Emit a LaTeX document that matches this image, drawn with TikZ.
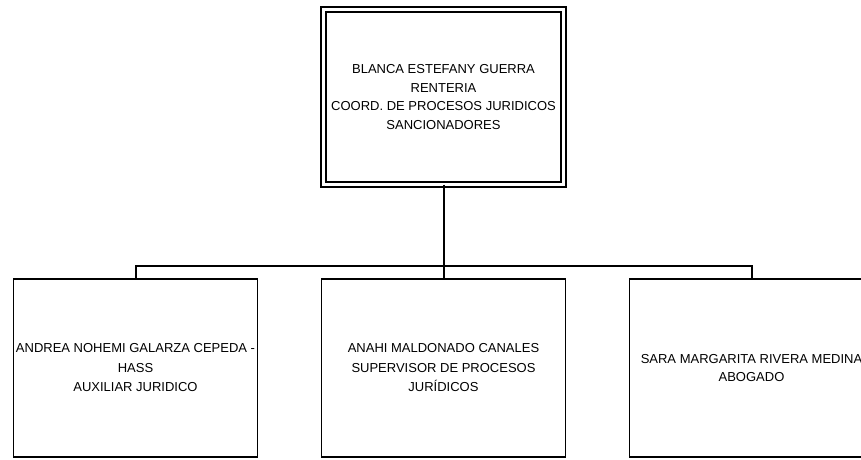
\documentclass[tikz,border=0pt]{standalone}
\usepackage{fontspec}
\setmainfont{Liberation Sans}
\usetikzlibrary{positioning}

\begin{document}
\begin{tikzpicture}[x=1pt, y=1pt,
boss/.style={draw, double, line width=1.8pt, double distance=3.4pt, outer sep=0pt, inner sep=0pt, minimum width=240pt, minimum height=175pt, align=center, font=\fontsize{13}{18.5}\selectfont},
staff/.style={draw, line width=1.9pt, outer sep=0pt, inner sep=0pt, minimum width=244pt, minimum height=178pt, align=center, font=\fontsize{13}{19.5}\selectfont},
line/.style={line width=2pt}
]
\useasboundingbox (0,0) rectangle (861,459);
\node[boss] (coord) at (443.5,362) {BLANCA ESTEFANY GUERRA\\RENTERIA\\COORD. DE PROCESOS JURIDICOS\\SANCIONADORES};
\node[staff, below=94.5pt of coord] (anahi) {ANAHI MALDONADO CANALES\\SUPERVISOR DE PROCESOS\\JURÍDICOS};
\node[staff, left=64pt of anahi] (andrea) {ANDREA NOHEMI GALARZA CEPEDA -\\HASS\\AUXILIAR JURIDICO};
\node[staff, right=64pt of anahi, font=\fontsize{13}{18.5}\selectfont] (sara) {SARA MARGARITA RIVERA MEDINA\\ABOGADO};
\draw[line] (coord.south) -- (anahi.north);
\draw[line] (andrea.north) -- ++(0,12.75) -| (sara.north);
\end{tikzpicture}
\end{document}
